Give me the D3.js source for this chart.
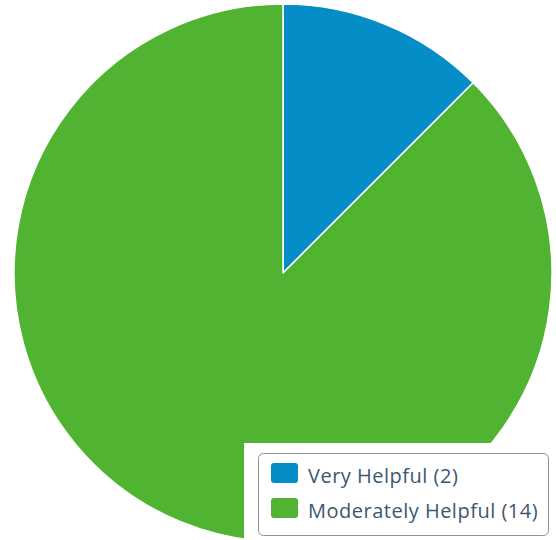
<!DOCTYPE html>
<html><head><meta charset="utf-8">
<script src="https://cdn.jsdelivr.net/npm/d3@7"></script>
<style>html,body{margin:0;padding:0;background:#fff;}svg{display:block;}</style>
</head><body>
<script>
const categories = ["Very Helpful", "Moderately Helpful"];
const values = [2, 14];
const colors = ["#058DC7", "#50B432"];

const W = 556, H = 540;
const cx = 283, cy = 273, R = 269;

const svg = d3.select("body").append("svg").attr("width", W).attr("height", H);

const pie = d3.pie().sort(null).value(d => d.v);
const arc = d3.arc().innerRadius(0).outerRadius(R);
const data = categories.map((c, i) => ({c, v: values[i], col: colors[i]}));

svg.append("g").attr("transform", `translate(${cx},${cy})`)
  .selectAll("path").data(pie(data)).join("path")
  .attr("d", arc).attr("fill", d => d.data.col)
  .attr("stroke", "#fff").attr("stroke-width", 1.5).attr("stroke-linejoin", "round");

// legend
const lg = svg.append("g");
lg.append("rect").attr("x", 244).attr("y", 443).attr("width", W - 244).attr("height", H - 443).attr("fill", "#fff");
lg.append("rect").attr("x", 258.5).attr("y", 453.5).attr("width", 290).attr("height", 82).attr("rx", 5)
  .attr("fill", "#fff").attr("stroke", "#909090").attr("stroke-width", 1);
const items = lg.selectAll("g.it").data(data).join("g").attr("class", "it")
  .attr("transform", (d, i) => `translate(271, ${463 + i * 35})`);
items.append("rect").attr("width", 27).attr("height", 20).attr("rx", 3).attr("fill", d => d.col);
items.append("text").attr("x", 37).attr("y", 19.5)
  .attr("font-family", "'Open Sans', sans-serif").attr("font-size", 20).attr("letter-spacing", 0.5).attr("fill", "#3E576F")
  .text(d => `${d.c} (${d.v})`);
</script>
</body></html>
